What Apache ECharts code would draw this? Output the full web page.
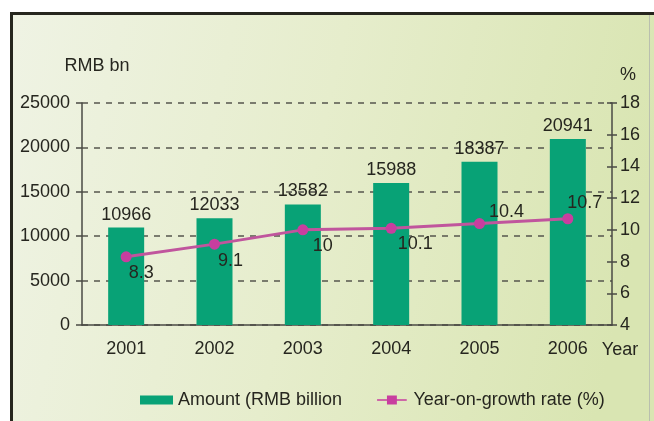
<!DOCTYPE html>
<html>
<head>
<meta charset="utf-8">
<script src="https://cdn.jsdelivr.net/npm/echarts@6/dist/echarts.min.js"></script>
<style>
  html, body { margin: 0; padding: 0; background: #ffffff; }
  #chart { width: 654px; height: 421px; }
</style>
</head>
<body>
<div id="chart"></div>
<script>
// Loan amounts and annual growth, 2001-2006
var years = ['2001', '2002', '2003', '2004', '2005', '2006'];
var amounts = [10966, 12033, 13582, 15988, 18387, 20941];
var growth = [8.3, 9.1, 10, 10.1, 10.4, 10.7];
var leftTicks = [0, 5000, 10000, 15000, 20000, 25000];
var rightTicks = [4, 6, 8, 10, 12, 14, 16, 18];

// where each growth label sits relative to its point
var growthLabelOffsets = [[15, 16], [16, 17], [20, 16], [24, 16], [27, -11], [17, -16]];

var FONT = '"Liberation Sans", Arial, sans-serif';
var TEXT = '#26261f';
var AXIS = '#4a4a44';

var chart = echarts.init(document.getElementById('chart'), null, { renderer: 'canvas' });

var growthData = growth.map(function (v, i) {
  return {
    value: v,
    label: { offset: growthLabelOffsets[i] }
  };
});

var plain = function (v) { return String(v); };

var option = {
  backgroundColor: '#ffffff',
  animation: false,
  textStyle: { fontFamily: FONT },
  graphic: [
    {
      type: 'rect', z: -10, silent: true,
      shape: { x: 11, y: 13, width: 643, height: 408 },
      style: {
        fill: new echarts.graphic.LinearGradient(0, 0, 1, 0.35, [
          { offset: 0, color: '#eff3e4' },
          { offset: 0.5, color: '#e6edcc' },
          { offset: 1, color: '#d9e5b2' }
        ])
      }
    },
    {
      type: 'line', z: -9, silent: true,
      shape: { x1: 11.5, y1: 13, x2: 11.5, y2: 421 },
      style: { stroke: '#26261e', lineWidth: 3 }
    },
    {
      type: 'line', z: -9, silent: true,
      shape: { x1: 10, y1: 13.5, x2: 654, y2: 13.5 },
      style: { stroke: '#26261e', lineWidth: 3 }
    },
    {
      type: 'line', z: -9, silent: true,
      shape: { x1: 649.5, y1: 15, x2: 649.5, y2: 421 },
      style: { stroke: '#b9bfae', lineWidth: 1 }
    }
  ],
  grid: { left: 82, right: 42, top: 103, bottom: 96 },
  legend: {
    left: 135, top: 386,
    itemWidth: 33, itemHeight: 9, itemGap: 35,
    textStyle: { fontSize: 18, color: TEXT, fontFamily: FONT },
    data: [
      { name: 'Amount (RMB billion', icon: 'rect' },
      { name: 'Year-on-growth rate (%)',
        icon: 'path://M0,4.2 L11,4.2 L11,0 L22,0 L22,4.2 L33,4.2 L33,5.8 L22,5.8 L22,10 L11,10 L11,5.8 L0,5.8 Z' }
    ]
  },
  xAxis: {
    type: 'category',
    data: years,
    name: 'Year',
    nameLocation: 'end',
    nameGap: 8,
    nameTextStyle: { fontSize: 18, color: TEXT, align: 'center', verticalAlign: 'top', padding: [16, 0, 0, 0] },
    axisLine: { lineStyle: { color: AXIS, width: 1.5 } },
    axisTick: { inside: true, length: 4, lineStyle: { color: AXIS, width: 1.5 } },
    axisLabel: { fontSize: 18, color: TEXT, margin: 15 }
  },
  yAxis: [
    {
      type: 'value', min: 0, max: 25000, interval: 5000,
      name: 'RMB bn', nameLocation: 'end', nameGap: 28,
      nameTextStyle: { fontSize: 18, color: TEXT, padding: [0, 0, 0, 30] },
      axisLine: { show: true, lineStyle: { color: AXIS, width: 1.5 } },
      axisTick: { show: true, length: 6, lineStyle: { color: AXIS, width: 1.5 } },
      axisLabel: { fontSize: 18, color: TEXT, margin: 12, customValues: leftTicks, formatter: plain },
      splitLine: { show: true, lineStyle: { color: '#55554d', width: 1.5, type: [6, 6] } }
    },
    {
      type: 'value', min: 4, max: 18, interval: 2, position: 'right',
      name: '%', nameLocation: 'end', nameGap: 19,
      nameTextStyle: { fontSize: 18, color: TEXT, padding: [0, 0, 0, 32] },
      axisLine: { show: true, lineStyle: { color: AXIS, width: 1.5 } },
      axisTick: { show: true, length: 5, lineStyle: { color: AXIS, width: 1.5 } },
      axisLabel: { fontSize: 18, color: TEXT, margin: 8, customValues: rightTicks, formatter: plain },
      splitLine: { show: false }
    },
    {
      // inner half of the right-hand tick marks
      type: 'value', min: 4, max: 18, interval: 2, position: 'right',
      axisLine: { show: false },
      axisTick: { show: true, inside: true, length: 5, lineStyle: { color: AXIS, width: 1.5 } },
      axisLabel: { show: false },
      splitLine: { show: false }
    }
  ],
  series: [
    {
      name: 'Amount (RMB billion',
      type: 'bar',
      yAxisIndex: 0,
      barWidth: 36,
      data: amounts,
      itemStyle: { color: '#08a276' },
      label: { show: true, position: 'top', distance: 4, fontSize: 18, color: TEXT, fontFamily: FONT }
    },
    {
      name: 'Year-on-growth rate (%)',
      type: 'line',
      yAxisIndex: 1,
      data: growthData,
      symbol: 'circle',
      symbolSize: 11,
      itemStyle: { color: '#c83e9f' },
      lineStyle: { color: '#c0559d', width: 3 },
      label: { show: true, position: 'inside', fontSize: 18, color: TEXT, fontFamily: FONT },
      z: 5
    }
  ]
};

chart.setOption(option);
</script>
</body>
</html>
